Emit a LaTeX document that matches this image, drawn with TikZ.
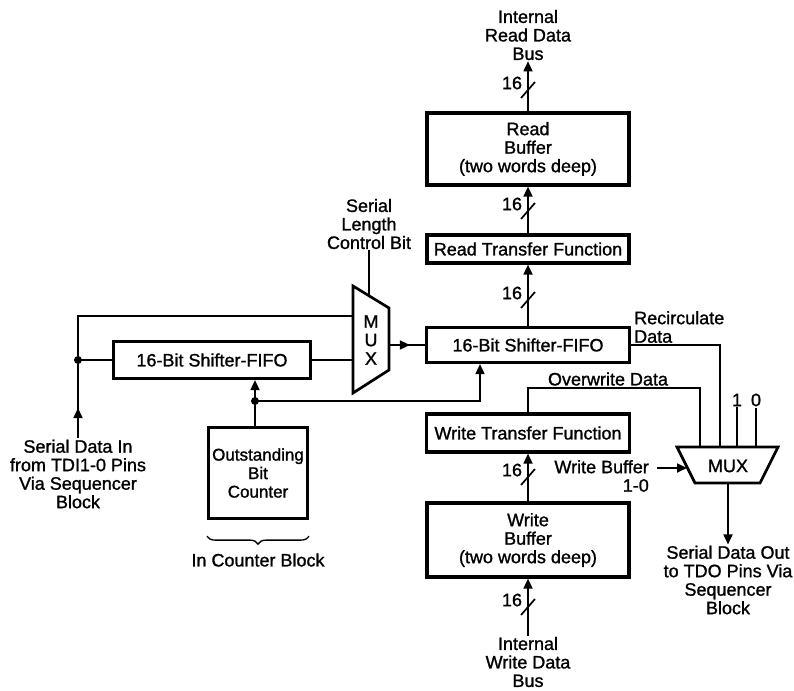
\documentclass[tikz,border=0pt]{standalone}
\usepackage{fontspec}
\setmainfont{Liberation Sans}[BoldFont=Liberation Sans, BoldFeatures={FakeBold=1.2}]
\usetikzlibrary{arrows.meta, decorations.pathreplacing}

\begin{document}
\begin{tikzpicture}[x=1pt, y=-1pt,
        font=\fontsize{18}{18.5}\selectfont\bfseries,
        block/.style={rectangle, draw, line width=3.2pt, inner sep=0pt, align=center},
        lbl/.style={align=center, inner sep=1pt},
        wire/.style={line width=1.7pt},
        arr/.style={wire, -{Triangle[length=10pt, width=9pt]}},
        dot/.style={circle, fill, inner sep=0pt, minimum size=8pt},
        muxbox/.style={line width=2.7pt, line join=miter},
        busw/.pic={\draw[wire] (-7,8) -- (7,-8); \node[lbl] at (-16,-7) {16};}
    ]
        \useasboundingbox (0,0) rectangle (794,690);

        % blocks
        \node[block, minimum width=202pt, minimum height=72pt] (rbuf) at (528,149) {Read\\Buffer\\(two words deep)};
        \node[block, minimum width=202pt, minimum height=28pt] (rxfer) at (528,249) {Read Transfer Function};
        \node[block, minimum width=203pt, minimum height=35pt] (shfR) at (528,345) {16-Bit Shifter-FIFO};
        \node[block, minimum width=203pt, minimum height=38pt] (wxfer) at (528,433) {Write Transfer Function};
        \node[block, minimum width=202pt, minimum height=74pt] (wbuf) at (528,540) {Write\\Buffer\\(two words deep)};
        \node[block, minimum width=197pt, minimum height=37pt] (shfL) at (212,360) {16-Bit Shifter-FIFO};
        \node[block, minimum width=99pt, minimum height=91pt, font=\fontsize{17}{18.5}\selectfont\bfseries] (cnt) at (258,473) {Outstanding\\Bit\\Counter};

        % labels
        \node[lbl] (rdbus) at (528,35) {Internal\\Read Data\\Bus};
        \node[lbl] (wdbus) at (528,662) {Internal\\Write Data\\Bus};
        \node[lbl] (sdin) at (78,474) {Serial Data In\\from TDI1-0 Pins\\Via Sequencer\\Block};
        \node[lbl] (sdout) at (728,580) {Serial Data Out\\to TDO Pins Via\\Sequencer\\Block};
        \node[lbl] (slen) at (369,224) {Serial\\Length\\Control Bit};
        \node[lbl] (cblk) at (258,560) {In Counter Block};
        \node[lbl, anchor=west, align=left] (recirc) at (633,327) {Recirculate\\Data};
        \node[lbl] (owlbl) at (608,379) {Overwrite Data};
        \node[lbl, anchor=east, align=right] (wbsel) at (650,476) {Write Buffer\\1-0};
        \node[lbl] (sel1) at (737,400) {1};
        \node[lbl] (sel0) at (756,400) {0};

        % length select mux
        \draw[muxbox] (353,286) coordinate (mLa) -- (389,308) -- (389,370) -- (353,393) -- cycle;
        \node[lbl, inner sep=0pt] (muxL) at (371,340) {M\\U\\X};
        \coordinate (mLin) at (353,316);
        \coordinate (mLout) at (389,345);
        \coordinate (mLsel) at (369,296);

        % output mux
        \draw[muxbox] (677,447) coordinate (mRa) -- (778,447) -- (760,483) -- (695,483) -- cycle;
        \node (muxR) at (728,466) {MUX};
        \coordinate (mRsel) at (687,468);
        \coordinate (mRout) at (728,483);
        \coordinate (wbin) at (657,468);
        \coordinate (owtop) at (700,388);
        \coordinate (jin) at (78,360);
        \coordinate (jc) at (255,401);

        % read path
        \draw[arr] (rbuf.north) -- (rdbus.south);
        \pic at (528,90) {busw};
        \draw[arr] (rxfer.north) -- (rbuf.south);
        \pic at (528,211) {busw};
        \draw[arr] (shfR.north) -- (rxfer.south);
        \pic at (528,300) {busw};

        % serial in and left shifter
        \draw[wire] (sdin.north) -- (jin);
        \draw[arr, shorten >=48pt] (sdin.north) -- (jin);
        \draw[wire] (jin) -- (shfL.west);
        \draw[wire] (jin) |- (mLin);
        \draw[wire] (shfL.east) -- (shfL.east -| mLa);
        \draw[wire] (slen.south) -- (mLsel);
        \draw[wire] (mLout) -- (shfR.west);
        \draw[arr, shorten >=15pt] (mLout) -- (shfR.west);
        \node[dot] at (jin) {};

        % counter feeds both shifters
        \draw[wire] (cnt.north -| jc) -- (jc);
        \draw[arr] (jc) -- (jc |- shfL.south);
        \draw[arr] (jc) -| ([xshift=-48pt]shfR.south);
        \node[dot] at (jc) {};
        \draw[line width=1.3pt, decorate, decoration={brace, mirror, amplitude=8pt}]
            ([yshift=-16pt]cnt.south west) -- ([yshift=-16pt]cnt.south east);

        % output mux inputs
        \draw[wire] (shfR.east) -| (mRa -| 720,0);
        \draw[wire] (wxfer.north) |- (owtop) -- (owtop |- mRa);
        \draw[wire] (sel1.south) -- (sel1.south |- mRa);
        \draw[wire] (sel0.south) -- (sel0.south |- mRa);
        \draw[arr] (wbin) -- (mRsel);
        \draw[arr] (mRout) -- (sdout.north);

        % write path
        \draw[arr] (wbuf.north) -- (wxfer.south);
        \pic at (528,477) {busw};
        \draw[arr] (wdbus.north) -- (wbuf.south);
        \pic at (528,607) {busw};
    \end{tikzpicture}
\end{document}
